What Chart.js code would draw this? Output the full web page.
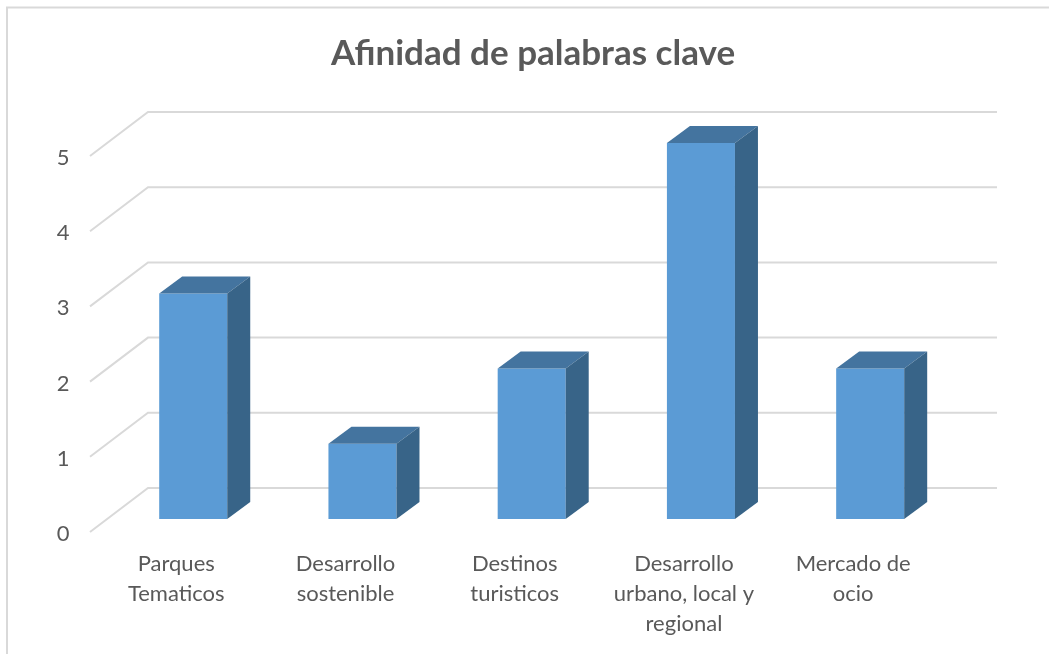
<!DOCTYPE html>
<html lang="es">
<head>
<meta charset="utf-8">
<title>Afinidad de palabras clave</title>
<script src="https://cdn.jsdelivr.net/npm/chart.js@4/dist/chart.umd.min.js"></script>
<style>
  html, body { margin: 0; padding: 0; background: #fff; }
  canvas { display: block; }
</style>
</head>
<body>
<canvas id="afinidad" width="1049" height="654"></canvas>
<script>
const titulo = 'Afinidad de palabras clave';
const categorias = [
    ['Parques', 'Tematicos'],
    ['Desarrollo', 'sostenible'],
    ['Destinos', 'turisticos'],
    ['Desarrollo', 'urbano, local y', 'regional'],
    ['Mercado de', 'ocio']
];
const valores = [3, 1, 2, 5, 2];

const FUENTE = 'Lato, "Open Sans", sans-serif';
const TEXTO = '#595959';
const REJILLA = '#d9d9d9';

// fake 3D: the bar's depth and the back wall, as offsets from the front plane
const prof = { x: 23, y: -17 };
const pared = { izq: 39.4, der: 42.2, arriba: -31, suelo: 13, salida: 58 };

const marco = {
    id: 'marco',
    beforeDraw(chart) {
        const c = chart.ctx;
        c.save();
        c.strokeStyle = REJILLA;
        c.lineWidth = 2;
        c.beginPath();
        c.moveTo(7, 654);
        c.lineTo(7, 7.5);
        c.lineTo(1049, 7.5);
        c.stroke();
        c.restore();
    }
};

const rejilla3d = {
    id: 'rejilla3d',
    beforeDatasetsDraw(chart) {
        const c = chart.ctx;
        const area = chart.chartArea;
        const y = chart.scales.y;
        const xPared = area.left + pared.izq;
        c.save();
        c.strokeStyle = REJILLA;
        c.lineWidth = 2;
        y.ticks.forEach(t => {
            const py = y.getPixelForValue(t.value);
            c.beginPath();
            c.moveTo(xPared - pared.salida, py + pared.suelo);
            c.lineTo(xPared, py + pared.arriba);
            c.lineTo(area.right + pared.der, py + pared.arriba);
            c.stroke();
        });
        c.restore();
    }
};

const barras3d = {
    id: 'barras3d',
    afterDatasetsDraw(chart) {
        const c = chart.ctx;
        c.save();
        chart.getDatasetMeta(0).data.forEach(bar => {
            const izq = bar.x - bar.width / 2;
            const der = bar.x + bar.width / 2;
            c.fillStyle = '#44749f';
            c.beginPath();
            c.moveTo(izq, bar.y);
            c.lineTo(izq + prof.x, bar.y + prof.y);
            c.lineTo(der + prof.x, bar.y + prof.y);
            c.lineTo(der, bar.y);
            c.closePath();
            c.fill();
            c.fillStyle = '#386488';
            c.beginPath();
            c.moveTo(der, bar.y);
            c.lineTo(der + prof.x, bar.y + prof.y);
            c.lineTo(der + prof.x, bar.base + prof.y);
            c.lineTo(der, bar.base);
            c.closePath();
            c.fill();
        });
        c.restore();
    }
};

new Chart(document.getElementById('afinidad'), {
    type: 'bar',
    data: {
        labels: categorias,
        datasets: [{
            data: valores,
            backgroundColor: '#5b9bd5',
            borderWidth: 0,
            barPercentage: 0.402,
            categoryPercentage: 1
        }]
    },
    plugins: [marco, rejilla3d, barras3d],
    options: {
        responsive: false,
        animation: false,
        layout: { padding: { left: 17, right: 0, top: 0, bottom: 0 } },
        plugins: {
            legend: { display: false },
            tooltip: { enabled: false },
            title: {
                display: true,
                text: titulo,
                color: TEXTO,
                font: { family: FUENTE, size: 35, weight: 'bold', lineHeight: 1.2 },
                padding: { top: 33, bottom: 68 }
            }
        },
        scales: {
            x: {
                grid: { display: false },
                border: { display: false },
                afterFit(scale) { scale.height = 135; },
                ticks: {
                    color: TEXTO,
                    font: { family: FUENTE, size: 22, lineHeight: 1.364 },
                    maxRotation: 0,
                    autoSkip: false,
                    padding: 22,
                    labelOffset: -17
                }
            },
            y: {
                min: 0,
                max: 5,
                grid: { display: false, drawTicks: false },
                border: { display: false },
                afterFit(scale) { scale.width = 91.6; },
                ticks: {
                    stepSize: 1,
                    color: TEXTO,
                    font: { family: FUENTE, size: 22 },
                    padding: 39,
                    labelOffset: 15
                }
            },
            derecha: {
                position: 'right',
                grid: { display: false, drawTicks: false },
                border: { display: false },
                ticks: { display: false },
                afterFit(scale) { scale.width = 94.2; }
            }
        }
    }
});
</script>
</body>
</html>
